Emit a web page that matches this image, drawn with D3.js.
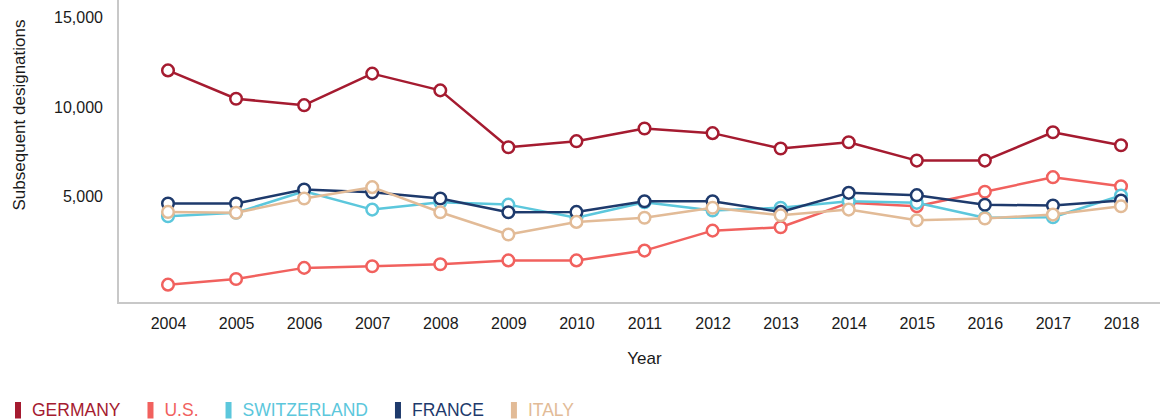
<!DOCTYPE html>
<html>
<head>
<meta charset="utf-8">
<script src="https://cdn.jsdelivr.net/npm/d3@7/dist/d3.min.js"></script>
<style>
  html, body { margin: 0; padding: 0; background: #fff; }
  svg { display: block; font-family: "Liberation Sans", Arial, sans-serif; }
</style>
</head>
<body>
<svg id="chart" width="1160" height="420"></svg>
<script>
// Subsequent designations per year, by country of origin
const years = [2004, 2005, 2006, 2007, 2008, 2009, 2010, 2011, 2012, 2013, 2014, 2015, 2016, 2017, 2018];

const germany     = [12050, 10460, 10100, 11870, 10930, 7740, 8080, 8790, 8530, 7670, 8020, 6990, 6990, 8580, 7850];
const us          = [30, 350, 970, 1060, 1170, 1390, 1390, 1940, 3060, 3250, 4620, 4430, 5240, 6060, 5550];
const switzerland = [3870, 4060, 5270, 4240, 4650, 4520, 3780, 4650, 4190, 4340, 4710, 4620, 3780, 3810, 5030];
const france      = [4580, 4580, 5370, 5210, 4860, 4090, 4110, 4710, 4710, 4110, 5180, 5050, 4510, 4470, 4750];
const italy       = [4110, 4060, 4860, 5500, 4090, 2840, 3550, 3780, 4340, 3920, 4240, 3640, 3740, 3960, 4430];

const seriesNames  = ["GERMANY", "U.S.", "SWITZERLAND", "FRANCE", "ITALY"];
const seriesValues = [germany, us, switzerland, france, italy];
const seriesColors = ["#a51b30", "#f1615e", "#5cc7dc", "#1e3a6c", "#e2bb97"];

const yTicks = [5000, 10000, 15000];
const yDomain = [-1000, 16000];

const svg = d3.select("#chart");
const plot = { left: 118, right: 1160, top: 0, bottom: 303 };

const x = d3.scalePoint()
  .domain(years)
  .range([plot.left + 50, plot.right - 39]);

const y = d3.scaleLinear()
  .domain(yDomain)
  .range([plot.bottom, plot.top]);

// axes
const xAxis = svg.append("g")
  .attr("transform", `translate(0,${plot.bottom})`)
  .call(d3.axisBottom(x).tickSize(0).tickPadding(15));
xAxis.select(".domain").remove();
xAxis.selectAll("text")
  .attr("font-size", 16)
  .attr("font-family", "Liberation Sans, Arial, sans-serif")
  .attr("fill", "#1a1a1a");

const yAxis = svg.append("g")
  .attr("transform", `translate(${plot.left},0)`)
  .call(d3.axisLeft(y).tickValues(yTicks).tickFormat(d3.format(",")).tickSize(0).tickPadding(15));
yAxis.select(".domain").remove();
yAxis.selectAll("text")
  .attr("font-size", 16)
  .attr("font-family", "Liberation Sans, Arial, sans-serif")
  .attr("fill", "#1a1a1a");

// axis frame lines
svg.append("line")
  .attr("x1", plot.left).attr("x2", plot.left)
  .attr("y1", plot.top).attr("y2", plot.bottom + 1)
  .attr("stroke", "#c8c8c8").attr("stroke-width", 2);
svg.append("line")
  .attr("x1", plot.left - 1).attr("x2", plot.right)
  .attr("y1", plot.bottom).attr("y2", plot.bottom)
  .attr("stroke", "#c8c8c8").attr("stroke-width", 2);

// axis titles
svg.append("text")
  .attr("transform", `translate(25,${115}) rotate(-90)`)
  .attr("text-anchor", "middle")
  .attr("font-size", 17)
  .attr("fill", "#1a1a1a")
  .text("Subsequent designations");

svg.append("text")
  .attr("x", (x(years[0]) + x(years[years.length - 1])) / 2)
  .attr("y", 364)
  .attr("text-anchor", "middle")
  .attr("font-size", 17)
  .attr("fill", "#1a1a1a")
  .text("Year");

// series
const line = d3.line()
  .x((d, i) => x(years[i]))
  .y(d => y(d));

seriesValues.forEach((vals, s) => {
  const g = svg.append("g");
  g.append("path")
    .datum(vals)
    .attr("d", line)
    .attr("fill", "none")
    .attr("stroke", seriesColors[s])
    .attr("stroke-width", 2.5)
    .attr("stroke-linejoin", "round");
  g.selectAll("circle")
    .data(vals)
    .join("circle")
    .attr("cx", (d, i) => x(years[i]))
    .attr("cy", d => y(d))
    .attr("r", 5.8)
    .attr("fill", "#fff")
    .attr("stroke", seriesColors[s])
    .attr("stroke-width", 2.5);
});

// legend
const legend = svg.append("g");
let lx = 15;
seriesNames.forEach((name, s) => {
  legend.append("rect")
    .attr("x", lx).attr("y", 402)
    .attr("width", 6).attr("height", 16.5)
    .attr("fill", seriesColors[s]);
  const t = legend.append("text")
    .attr("x", lx + 17)
    .attr("y", 416)
    .attr("font-size", 17.5)
    .attr("fill", seriesColors[s])
    .text(name);
  lx += 17 + t.node().getComputedTextLength() + 27;
});
</script>
</body>
</html>
